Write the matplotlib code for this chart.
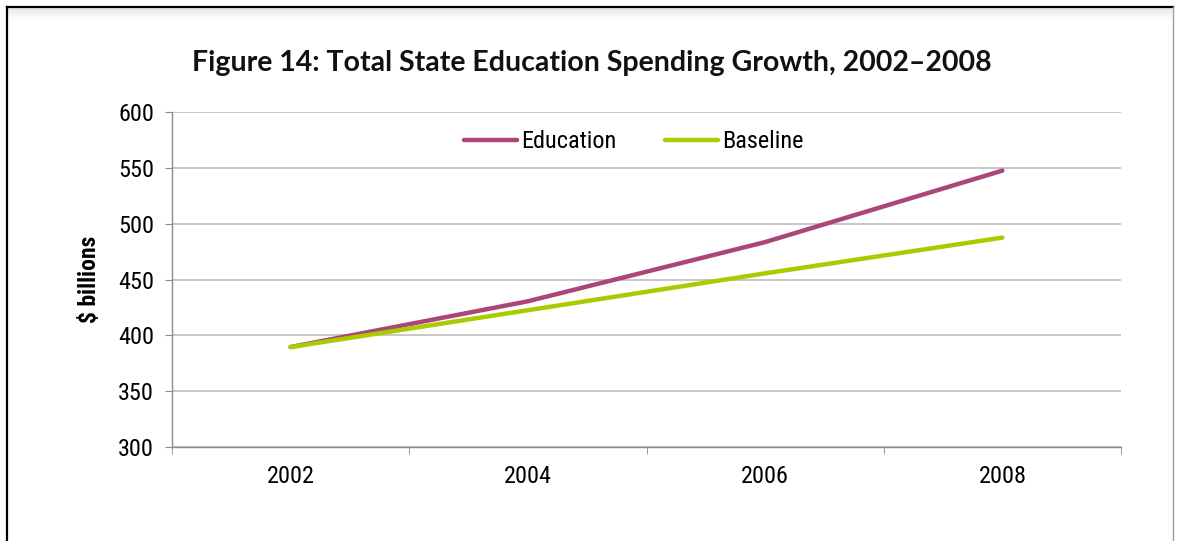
import matplotlib
matplotlib.use("Agg")
import matplotlib.pyplot as plt
from matplotlib import font_manager
from matplotlib.lines import Line2D
from matplotlib.patches import Rectangle

years = ["2002", "2004", "2006", "2008"]
education = [389.5, 430.5, 483.5, 547.5]
baseline = [389.5, 422.5, 455.5, 487.5]
y_ticks = [300, 350, 400, 450, 500, 550, 600]
title = "Figure 14: Total State Education Spending Growth, 2002\u20132008"

installed = {f.name for f in font_manager.fontManager.ttflist}
narrow = next((n for n in ["Liberation Sans Narrow", "Roboto Condensed", "Roboto"] if n in installed), "DejaVu Sans")
title_font = next((n for n in ["Lato", "Open Sans"] if n in installed), "DejaVu Sans")

W, H, DPI = 1178, 541, 100
fig = plt.figure(figsize=(W / DPI, H / DPI), dpi=DPI)
fig.patch.set_facecolor("white")

# page frame
fig.add_artist(Line2D([7 / W, 7 / W], [0, 1 - 7 / H], color="black", lw=1.6, transform=fig.transFigure))
fig.add_artist(Line2D([7 / W, 1 - 5 / W], [1 - 7 / H, 1 - 7 / H], color="black", lw=1.6, transform=fig.transFigure))
fig.add_artist(Line2D([1 - 5 / W, 1 - 5 / W], [0, 1 - 7 / H], color="#9a9a9a", lw=1.0, transform=fig.transFigure))
for i, c in enumerate(["#e6e6e6", "#eeeeee", "#f4f4f4", "#f9f9f9"]):
    fig.add_artist(Rectangle((8 / W, 1 - (10 + 3 * i) / H), (W - 14) / W, 3 / H,
                             color=c, lw=0, transform=fig.transFigure))

ax = fig.add_axes([172 / W, 1 - 447 / H, (1121 - 172) / W, (447 - 112) / H])

x = list(range(len(years)))
ax.plot(x, education, color="#AA4678", lw=3.2, solid_capstyle="round", label="Education", zorder=3)
ax.plot(x, baseline, color="#A8CC00", lw=3.2, solid_capstyle="round", label="Baseline", zorder=3)

ax.set_xlim(-0.5, len(years) - 0.5)
ax.set_ylim(300, 600)
ax.set_yticks(y_ticks)
ax.set_xticks(x)
ax.set_xticklabels(years)
ax.set_xticks([i - 0.5 for i in range(len(years) + 1)], minor=True)

ax.grid(axis="y", color="#bdbdbd", lw=1.2)
ax.set_axisbelow(True)
for s in ["top", "right"]:
    ax.spines[s].set_visible(False)
for s in ["left", "bottom"]:
    ax.spines[s].set_color("#8c8c8c")
    ax.spines[s].set_linewidth(1.0)

ax.tick_params(axis="y", length=5, color="#8c8c8c", labelsize=17.5, pad=8)
ax.tick_params(axis="x", which="major", length=0, labelsize=17.5, pad=13)
ax.tick_params(axis="x", which="minor", length=5, color="#8c8c8c")
for lab in ax.get_xticklabels() + ax.get_yticklabels():
    lab.set_fontfamily(narrow)

ax.set_ylabel("$ billions", fontsize=17, fontweight="bold", fontfamily=narrow, labelpad=12)

leg = fig.legend(handles=ax.get_lines(), loc="center left",
                 bbox_to_anchor=(464 / W, 1 - 142 / H), ncol=2, frameon=False,
                 prop={"family": narrow, "size": 17.5}, handlelength=2.2, handletextpad=0.15,
                 columnspacing=2.0, borderpad=0, borderaxespad=0)

fig.text(592 / W, 1 - 63 / H, title, ha="center", va="center", fontsize=20.5,
         fontweight="bold", fontfamily=title_font, color="#111111")

fig.savefig("out.png", dpi=DPI)
